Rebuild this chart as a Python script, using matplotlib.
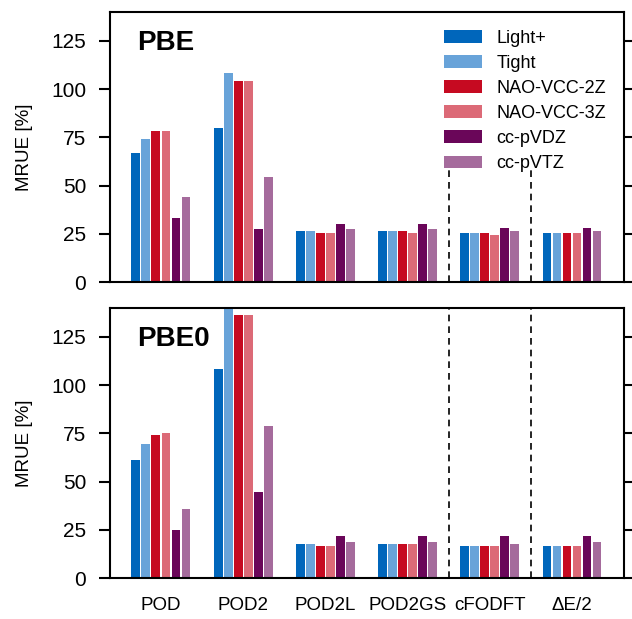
import numpy as np
import matplotlib.pyplot as plt

plt.rcParams['font.family'] = ['Liberation Sans', 'DejaVu Sans']

methods = ['POD', 'POD2', 'POD2L', 'POD2GS', 'cFODFT', 'ΔE/2']
basis = ['Light+', 'Tight', 'NAO-VCC-2Z', 'NAO-VCC-3Z', 'cc-pVDZ', 'cc-pVTZ']
colors = ['#0066bb', '#68a3d9', '#c60a21', '#dc6a77', '#6a0659', '#a56b9c']

# MRUE [%] per basis set, one value per method
pbe_light = [67, 80, 26.4, 26.4, 25.4, 25.4]
pbe_tight = [74, 108.4, 26.4, 26.4, 25.4, 25.4]
pbe_nao2z = [78.3, 104, 25.4, 26.4, 25.4, 25.4]
pbe_nao3z = [78.3, 104, 25.4, 25.4, 24.4, 25.4]
pbe_vdz = [33, 27.5, 30, 30, 28, 28]
pbe_vtz = [44, 54.5, 27.5, 27.5, 26.4, 26.4]

pbe0_light = [61, 108.3, 17.7, 17.7, 16.7, 16.7]
pbe0_tight = [69.3, 145, 17.7, 17.7, 16.7, 16.7]
pbe0_nao2z = [74, 136.5, 16.7, 17.7, 16.7, 16.7]
pbe0_nao3z = [75, 136.5, 16.7, 17.7, 16.7, 16.7]
pbe0_vdz = [25, 44.8, 22, 22, 22, 22]
pbe0_vtz = [36, 79, 18.8, 18.8, 17.7, 18.8]

panels = [
    ('PBE', [pbe_light, pbe_tight, pbe_nao2z, pbe_nao3z, pbe_vdz, pbe_vtz]),
    ('PBE0', [pbe0_light, pbe0_tight, pbe0_nao2z, pbe0_nao3z, pbe0_vdz, pbe0_vtz]),
]

fig = plt.figure(figsize=(6.32, 6.19), dpi=100)
ax1 = fig.add_axes([0.174, 0.5444, 0.813, 0.4362])
ax2 = fig.add_axes([0.174, 0.0662, 0.813, 0.4362])

x = np.arange(len(methods))
step = 0.1217
width = 0.108

for ax, (name, series) in zip([ax1, ax2], panels):
    for j, vals in enumerate(series):
        ax.bar(x + (j - 2.5) * step, vals, width, color=colors[j], label=basis[j], zorder=2)
    # dashed separators stop below the legend in the top panel
    top = 0.415 if ax is ax1 else 1.0
    for xv in [3.5, 4.5]:
        ax.axvline(xv, ymax=top, color='black', linestyle=(0, (4, 3)), linewidth=1.2, zorder=1)
    ax.set_xlim(-0.62, 5.63)
    ax.set_ylim(0, 140)
    ax.set_yticks([0, 25, 50, 75, 100, 125])
    ax.tick_params(axis='y', which='both', direction='out', length=8, width=1.5,
                   labelsize=15, right=True, pad=9)
    ax.tick_params(axis='x', length=0, labelsize=13.5, pad=14)
    ax.set_xticks(x)
    for sp in ax.spines.values():
        sp.set_linewidth(1.5)
    ax.set_ylabel('MRUE [%]', fontsize=13.5, labelpad=13)
    ax.text(0.053, 0.935, name, transform=ax.transAxes, fontsize=20,
            fontweight='bold', va='top', ha='left')

ax1.set_xticklabels([])
ax2.set_xticklabels(methods)

leg = ax1.legend(loc='upper left', bbox_to_anchor=(0.64, 0.955), fontsize=13,
                 frameon=False, handlelength=2.1, handleheight=0.7, labelspacing=0.45,
                 handletextpad=0.8, borderaxespad=0, borderpad=0.3)

fig.savefig('out.png', dpi=100)
